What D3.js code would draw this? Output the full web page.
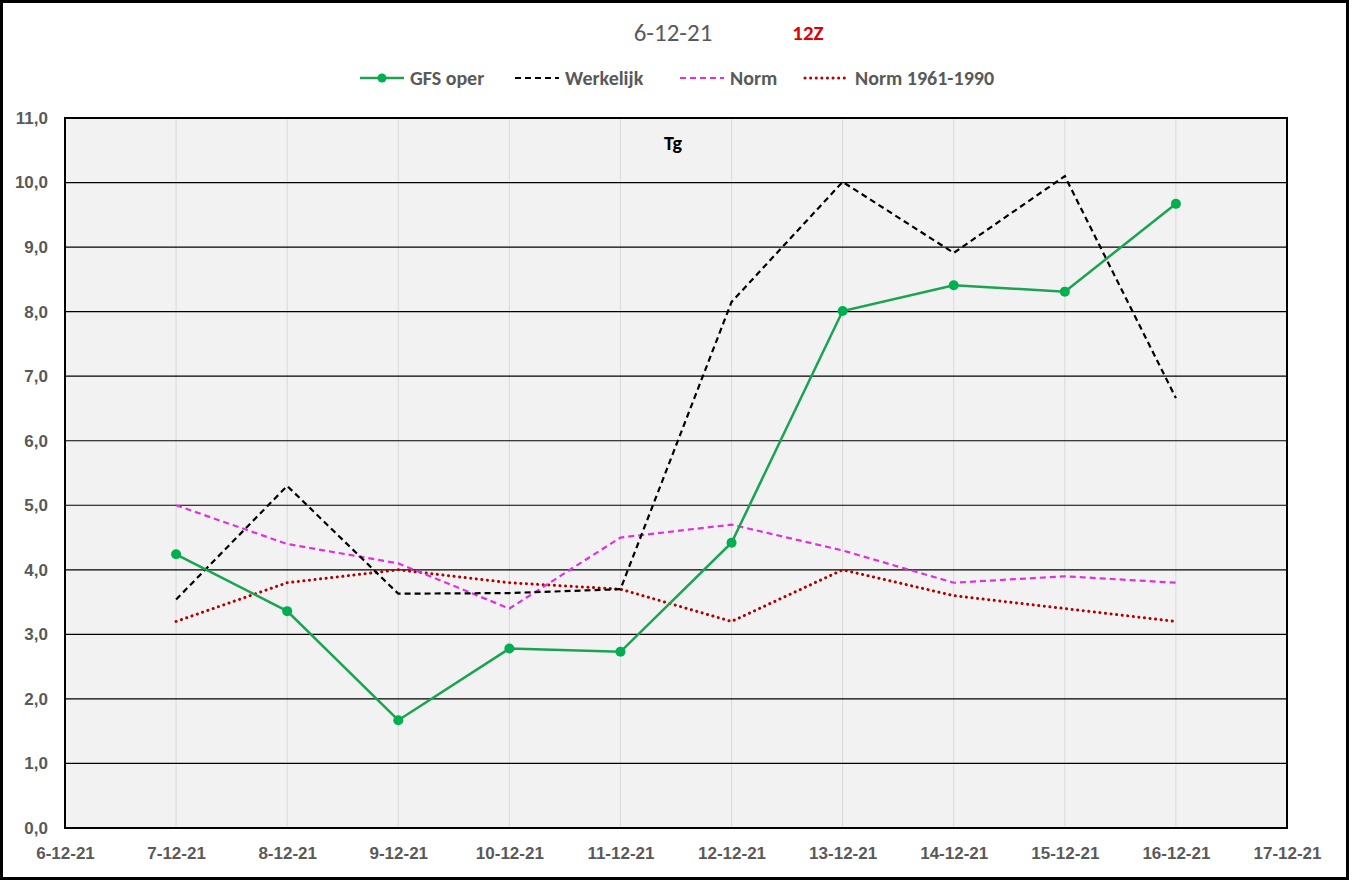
<!DOCTYPE html>
<html lang="nl">
<head>
<meta charset="UTF-8">
<title>Tg</title>
<script src="https://cdn.jsdelivr.net/npm/d3@7/dist/d3.min.js"></script>
<style>
    body { margin: 0; background: #fff; }
    svg { display: block; font-family: Carlito, "Liberation Sans Narrow", "Open Sans", "Liberation Sans", sans-serif; }
    .tick-label { fill: #595959; font-weight: bold; font-size: 17px; }
    .legend-label { fill: #595959; font-weight: bold; font-size: 20px; }
</style>
</head>
<body>
<svg width="1349" height="880"></svg>
<script>
    // data
    var dates = ['2021-12-07', '2021-12-08', '2021-12-09', '2021-12-10', '2021-12-11',
                 '2021-12-12', '2021-12-13', '2021-12-14', '2021-12-15', '2021-12-16'];
    var gfsOper   = [4.24, 3.36, 1.67, 2.78, 2.73, 4.42, 8.01, 8.41, 8.31, 9.67];
    var werkelijk = [3.54, 5.30, 3.63, 3.64, 3.70, 8.15, 10.01, 8.91, 10.10, 6.66];
    var norm      = [5.0, 4.4, 4.1, 3.4, 4.5, 4.7, 4.3, 3.8, 3.9, 3.8];
    var norm6190  = [3.2, 3.8, 4.0, 3.8, 3.7, 3.2, 4.0, 3.6, 3.4, 3.2];
    var yTicks = [0, 1, 2, 3, 4, 5, 6, 7, 8, 9, 10, 11];
    var xStart = '2021-12-06', xEnd = '2021-12-17';
    var titleText = '6-12-21', runText = '12Z', panelText = 'Tg';

    var parse = d3.timeParse('%Y-%m-%d');
    var days = dates.map(parse);

    var svg = d3.select('svg'),
        plotL = 65, plotR = 1287, plotT = 118, plotB = 828;

    var x = d3.scaleTime()
        .domain([parse(xStart), parse(xEnd)])
        .range([plotL, plotR]);
    var y = d3.scaleLinear()
        .domain([0, 11])
        .range([plotB, plotT]);

    // outer frame
    svg.append('rect')
        .attr('x', 1.5).attr('y', 1.5)
        .attr('width', 1346).attr('height', 877)
        .attr('fill', '#fff')
        .attr('stroke', '#000')
        .attr('stroke-width', 3);

    // plot background
    svg.append('rect')
        .attr('x', plotL).attr('y', plotT)
        .attr('width', plotR - plotL).attr('height', plotB - plotT)
        .attr('fill', '#f2f2f2');

    // vertical grid
    svg.append('g')
        .selectAll('line')
        .data(x.ticks(d3.timeDay.every(1)))
        .join('line')
        .attr('x1', d => x(d)).attr('x2', d => x(d))
        .attr('y1', plotT).attr('y2', plotB)
        .attr('stroke', '#d9d9d9')
        .attr('stroke-width', 1);

    // horizontal grid
    svg.append('g')
        .selectAll('line')
        .data(yTicks)
        .join('line')
        .attr('x1', plotL).attr('x2', plotR)
        .attr('y1', d => y(d)).attr('y2', d => y(d))
        .attr('stroke', '#000')
        .attr('stroke-width', 1.2);

    // plot frame
    svg.append('rect')
        .attr('x', plotL).attr('y', plotT)
        .attr('width', plotR - plotL).attr('height', plotB - plotT)
        .attr('fill', 'none')
        .attr('stroke', '#000')
        .attr('stroke-width', 2);

    // y axis
    var yAxis = svg.append('g')
        .attr('transform', 'translate(' + (plotL - 17) + ',0)')
        .call(d3.axisLeft(y).tickValues(yTicks).tickSize(0).tickPadding(0)
            .tickFormat(d => d3.format('.1f')(d).replace('.', ',')));
    yAxis.select('.domain').remove();
    yAxis.selectAll('text').attr('class', 'tick-label');

    // x axis
    var xAxis = svg.append('g')
        .attr('transform', 'translate(0,' + plotB + ')')
        .call(d3.axisBottom(x).ticks(d3.timeDay.every(1)).tickSize(0).tickPadding(19)
            .tickFormat(d3.timeFormat('%-d-%m-%y')));
    xAxis.select('.domain').remove();
    xAxis.selectAll('text').attr('class', 'tick-label');

    // series
    var series = [
        { name: 'GFS oper', values: gfsOper, color: '#1aa452', width: 2.5, dash: null, cap: 'butt', marker: true },
        { name: 'Werkelijk', values: werkelijk, color: '#000', width: 2.2, dash: '6,4', cap: 'butt', marker: false },
        { name: 'Norm', values: norm, color: '#e030e0', width: 2.2, dash: '6,4', cap: 'butt', marker: false },
        { name: 'Norm 1961-1990', values: norm6190, color: '#b00000', width: 3, dash: '0.1,5.5', cap: 'round', marker: false }
    ];

    var line = d3.line()
        .x(d => x(d[0]))
        .y(d => y(d[1]));

    // draw in reverse so GFS ends on top
    series.slice().reverse().forEach(function (s) {
        var pts = days.map((d, i) => [d, s.values[i]]);
        svg.append('path')
            .datum(pts)
            .attr('d', line)
            .attr('fill', 'none')
            .attr('stroke', s.color)
            .attr('stroke-width', s.width)
            .attr('stroke-dasharray', s.dash)
            .attr('stroke-linecap', s.cap);
        if (s.marker) {
            svg.append('g')
                .selectAll('circle')
                .data(pts)
                .join('circle')
                .attr('cx', d => x(d[0]))
                .attr('cy', d => y(d[1]))
                .attr('r', 5)
                .attr('fill', '#00b050');
        }
    });

    // titles
    svg.append('text')
        .attr('x', 673).attr('y', 41)
        .attr('text-anchor', 'middle')
        .attr('fill', '#595959')
        .attr('font-size', 25)
        .text(titleText);
    svg.append('text')
        .attr('x', 808).attr('y', 40)
        .attr('text-anchor', 'middle')
        .attr('fill', '#e00000')
        .attr('font-weight', 'bold')
        .attr('font-size', 21)
        .text(runText);
    svg.append('text')
        .attr('x', 673).attr('y', 150)
        .attr('text-anchor', 'middle')
        .attr('fill', '#000')
        .attr('font-weight', 'bold')
        .attr('font-size', 20)
        .text(panelText);

    // legend
    var legendX = [360, 515, 680, 805];
    var legend = svg.append('g');
    series.forEach(function (s, i) {
        var g = legend.append('g').attr('transform', 'translate(' + legendX[i] + ',78)');
        g.append('line')
            .attr('x1', 0).attr('x2', 44)
            .attr('stroke', s.color)
            .attr('stroke-width', s.width)
            .attr('stroke-dasharray', s.dash)
            .attr('stroke-linecap', s.cap);
        if (s.marker) {
            g.append('circle').attr('cx', 22).attr('r', 4.5).attr('fill', '#00b050');
        }
        g.append('text')
            .attr('class', 'legend-label')
            .attr('x', 50).attr('dy', '0.35em')
            .text(s.name);
    });
</script>
</body>
</html>
